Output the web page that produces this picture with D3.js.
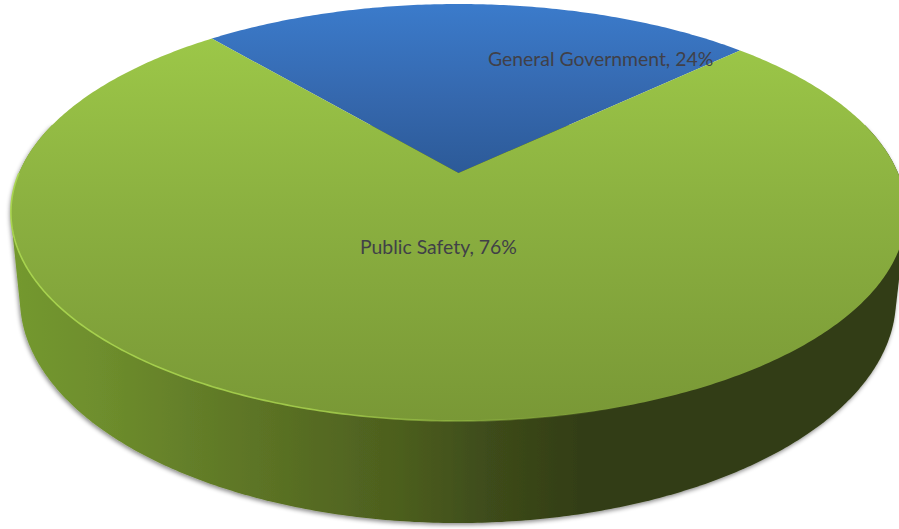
<!DOCTYPE html>
<html>
<head>
<meta charset="utf-8">
<script src="https://cdnjs.cloudflare.com/ajax/libs/d3/7.8.5/d3.min.js"></script>
<style>
html, body { margin: 0; padding: 0; background: #fff; overflow: hidden; }
svg { display: block; }
text { font-family: Lato, "Open Sans", sans-serif; fill: #404048; }
</style>
</head>
<body>
<svg id="chart" width="899" height="529"></svg>
<script>
// Chart data
const categories = ["General Government", "Public Safety"];
const shares = [24, 76];

// Disc rotation and perspective of the 3D pie
const firstSliceDeg = -40;
const perspective = -0.1894;

const svg = d3.select("#chart");
const defs = svg.append("defs");

function linearGradient(id, x1, y1, x2, y2, stops) {
  const g = defs.append("linearGradient")
    .attr("id", id).attr("gradientUnits", "userSpaceOnUse")
    .attr("x1", x1).attr("y1", y1).attr("x2", x2).attr("y2", y2);
  stops.forEach(([o, c, a]) => g.append("stop")
    .attr("offset", o).attr("stop-color", c).attr("stop-opacity", a === undefined ? 1 : a));
}

linearGradient("blueTop", 0, 4, 0, 173, [[0, "#3b7bcb"], [0.55, "#3568ae"], [1, "#2c5a98"]]);
linearGradient("greenTop", 0, 39, 0, 421, [[0, "#9cc748"], [0.45, "#8bb040"], [1, "#799836"]]);
linearGradient("wall", 10, 0, 899, 0, [
  [0, "#74992f"], [0.1, "#6e8e2d"], [0.2, "#647f29"], [0.32, "#586e23"],
  [0.44, "#4c5e1e"], [0.56, "#3b4819"], [0.64, "#333e15"], [1, "#323c14"]
]);
linearGradient("rim", 10, 0, 899, 0, [
  [0, "#aad650", 0.95], [0.35, "#a8d24e", 0.85], [0.55, "#9cc448", 0.4], [0.7, "#9cc448", 0]
]);

const shadow = defs.append("filter").attr("id", "wallShadow")
  .attr("x", "-3%").attr("y", "-3%").attr("width", "106%").attr("height", "106%");
shadow.append("feDropShadow")
  .attr("dx", -1).attr("dy", 2).attr("stdDeviation", 2)
  .attr("flood-color", "#000").attr("flood-opacity", 0.45);

// Scales from projected disc space to the page
const xTop = d3.scaleLinear().domain([-1, 1]).range([19, 898]);
const yTop = d3.scaleLinear().domain([-1, 1]).range([-28, 374]);
const xBase = d3.scaleLinear().domain([-1, 1]).range([20, 896]);
const yBase = d3.scaleLinear().domain([-1, 1]).range([75, 523]);

// Perspective projection of an angle on the top face (0 = back, clockwise)
function topPoint(angle, radius = 1) {
  const dx = radius * Math.sin(angle);
  const dy = -radius * Math.cos(angle);
  const w = 1 + perspective * dy;
  return [xTop(dx / w), yTop(dy / w)];
}
function basePoint(angle) {
  return [xBase(Math.sin(angle)), yBase(-Math.cos(angle))];
}
function angles(a0, a1) {
  const n = Math.max(2, Math.ceil(Math.abs(a1 - a0) * 90));
  return d3.range(n + 1).map(i => a0 + (a1 - a0) * i / n);
}

const line = d3.line();
const start = firstSliceDeg * Math.PI / 180;
const pie = d3.pie().sort(null).startAngle(start).endAngle(start + 2 * Math.PI);
const slices = pie(shares);
const fills = ["url(#blueTop)", "url(#greenTop)"];

// Side wall: hull of the front half of both rims
const frontAngles = angles(Math.PI * 0.42, Math.PI * 1.58);
const hull = d3.polygonHull(frontAngles.map(a => topPoint(a)).concat(frontAngles.map(basePoint)));
svg.append("path")
  .attr("d", line(hull) + "Z")
  .attr("fill", "url(#wall)")
  .attr("filter", "url(#wallShadow)");

// Top faces
svg.append("g").selectAll("path").data(slices).join("path")
  .attr("d", d => line([topPoint(0, 0), ...angles(d.startAngle, d.endAngle).map(a => topPoint(a))]) + "Z")
  .attr("fill", (d, i) => fills[i]);

// Bevel highlight along the front rim
svg.append("path")
  .attr("d", line(angles(Math.PI * 0.5, Math.PI * 1.5).map(a => topPoint(a))))
  .attr("fill", "none")
  .attr("stroke", "url(#rim)")
  .attr("stroke-width", 1.6);

// Data labels
const labelAnchors = [[488, 66], [360, 254]];
svg.append("g").selectAll("text").data(slices).join("text")
  .attr("x", (d, i) => labelAnchors[i][0])
  .attr("y", (d, i) => labelAnchors[i][1])
  .attr("font-size", 19.4)
  .text((d, i) => `${categories[i]}, ${d.data}%`);
</script>
</body>
</html>
